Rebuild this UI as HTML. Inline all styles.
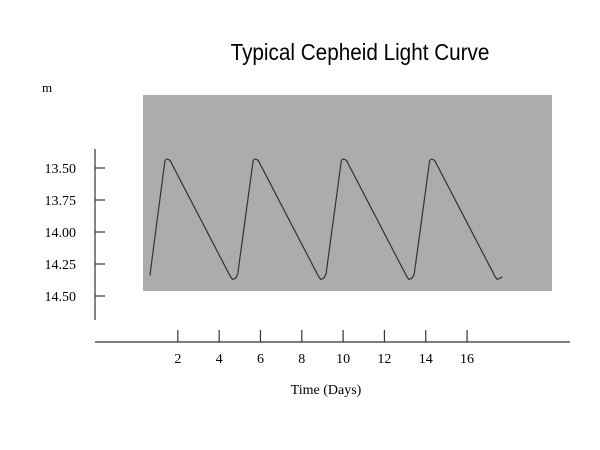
<!DOCTYPE html>
<html><head><meta charset="utf-8"><style>
body{margin:0;background:#fff;}
svg{display:block;}
</style></head><body>
<svg id="chart" width="600" height="450">
<text x="360" y="60" text-anchor="middle" font-family="Liberation Sans, sans-serif" font-size="23" transform="translate(360,0) scale(0.9,1) translate(-360,0)">Typical Cepheid Light Curve</text>
<text x="42" y="92" font-family="Liberation Serif, serif" font-size="13">m</text>
<rect x="143" y="95" width="409" height="196" fill="#acacac"/>
<line x1="95" y1="149" x2="95" y2="320" stroke="#333" stroke-width="1.2"/>
<line x1="95" y1="342" x2="570" y2="342" stroke="#333" stroke-width="1.2"/>
<text x="326" y="394" text-anchor="middle" font-family="Liberation Serif, serif" font-size="14">Time (Days)</text>
<g id="ticks"></g>
<path id="curve" fill="none" stroke="#333" stroke-width="1.2"/>
</svg>
<script>
const yTicks=[13.50,13.75,14.00,14.25,14.50];
const xTicks=[2,4,6,8,10,12,14,16];
const days=[0.65,1.38,1.48,1.62,4.55,4.65,4.80,4.90,5.65,5.75,5.89,8.82,8.92,9.07,9.17,9.92,10.02,10.16,13.09,13.19,13.34,13.44,14.19,14.29,14.43,17.36,17.46,17.60,17.70];
const mags=[14.34,13.44,13.43,13.44,14.35,14.37,14.36,14.33,13.44,13.43,13.44,14.35,14.37,14.36,14.33,13.44,13.43,13.44,14.35,14.37,14.36,14.33,13.44,13.43,13.44,14.35,14.37,14.36,14.35];
function xs(d){return 136.5+d*20.66;}
function ys(m){return 168+(m-13.5)*128;}
const NS='http://www.w3.org/2000/svg';
const g=document.getElementById('ticks');
yTicks.forEach(v=>{
  const l=document.createElementNS(NS,'line');
  l.setAttribute('x1',95);l.setAttribute('x2',105);l.setAttribute('y1',ys(v));l.setAttribute('y2',ys(v));
  l.setAttribute('stroke','#333');l.setAttribute('stroke-width','1.2');
  
  
  g.appendChild(l);
  const t=document.createElementNS(NS,'text');
  t.setAttribute('x',76);t.setAttribute('y',ys(v)+5);t.setAttribute('text-anchor','end');
  t.setAttribute('font-family','Liberation Serif, serif');t.setAttribute('font-size','14');
  t.textContent=v.toFixed(2);
  
  
  g.appendChild(t);
});
xTicks.forEach(v=>{
  const l=document.createElementNS(NS,'line');
  l.setAttribute('x1',xs(v));l.setAttribute('x2',xs(v));l.setAttribute('y1',330);l.setAttribute('y2',342);
  l.setAttribute('stroke','#333');l.setAttribute('stroke-width','1.2');
  
  
  g.appendChild(l);
  const t=document.createElementNS(NS,'text');
  t.setAttribute('x',xs(v));t.setAttribute('y',363);t.setAttribute('text-anchor','middle');
  t.setAttribute('font-family','Liberation Serif, serif');t.setAttribute('font-size','14');
  t.textContent=v;
  
  
  g.appendChild(t);
});
let d='';
days.forEach((v,i)=>{d+=(i?'L':'M')+xs(v).toFixed(1)+','+ys(mags[i]).toFixed(1);});
document.getElementById('curve').setAttribute('d',d);
</script>
</body></html>
